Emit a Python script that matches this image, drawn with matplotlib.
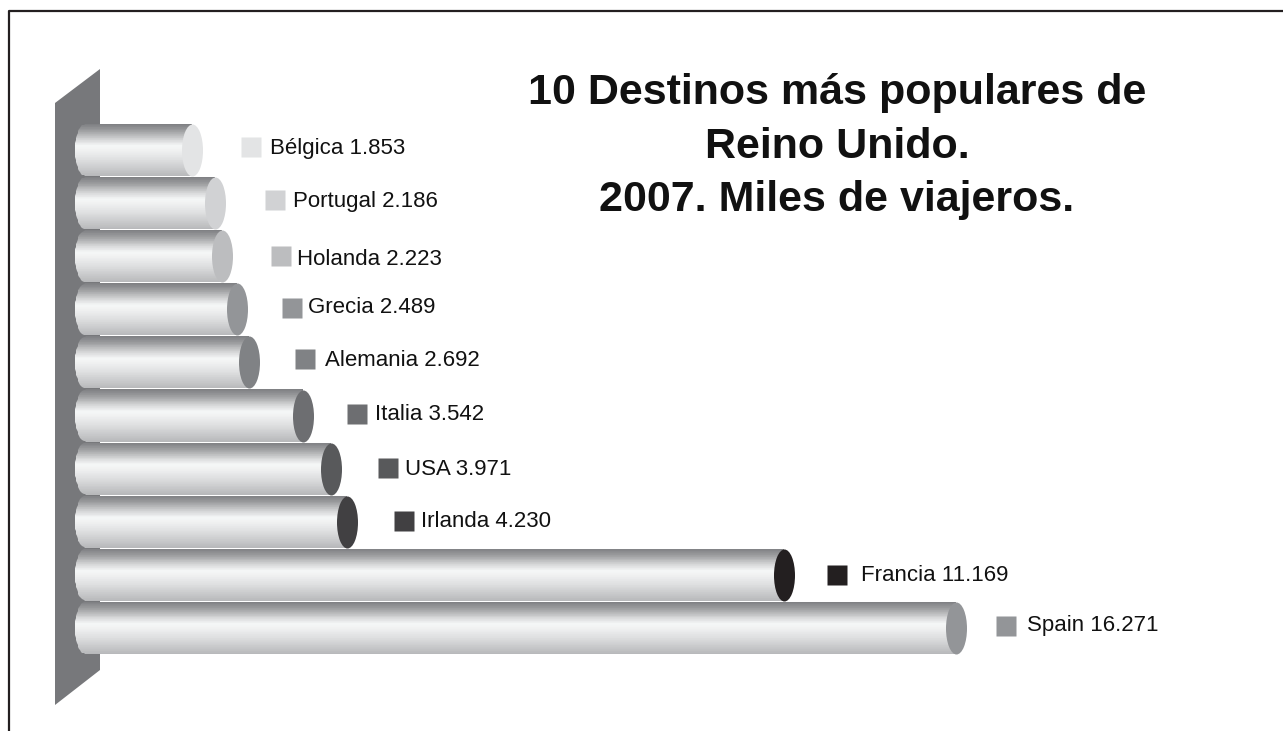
import matplotlib
matplotlib.use('Agg')
import matplotlib.pyplot as plt
import numpy as np
from matplotlib.colors import LinearSegmentedColormap
from matplotlib.patches import PathPatch, Polygon
from matplotlib.path import Path
from matplotlib.transforms import Affine2D, ScaledTranslation

plt.rcParams['font.family'] = ['Liberation Sans', 'DejaVu Sans']

countries = ['Bélgica', 'Portugal', 'Holanda', 'Grecia', 'Alemania',
             'Italia', 'USA', 'Irlanda', 'Francia', 'Spain']
travellers = [1853, 2186, 2223, 2489, 2692, 3542, 3971, 4230, 11169, 16271]
value_labels = ['1.853', '2.186', '2.223', '2.489', '2.692',
                '3.542', '3.971', '4.230', '11.169', '16.271']
cap_colors = ['#e3e4e5', '#d1d2d4', '#bcbdbf', '#939598', '#808285',
              '#6d6e71', '#58595b', '#414042', '#231f20', '#939598']

# offsets of the key squares and labels from the bar ends, in pixels
square_dx = [59, 60, 59, 55, 56, 54, 57, 57, 53, 50]
square_dy = [3, 3, 0, 1, 3, 2, 1, 1, 0, 2]
label_dx = [78, 78, 75, 71, 76, 72, 74, 74, 77, 71]
label_dy = [2, 2, -3, 2, 2, 1, -1, 0, -1, 2]

# the source chart squeezes its axis unevenly (Spain is cut short),
# so the x scale is piecewise: value -> pixel column
scale_values = [-1500, 0, 1853, 2186, 2223, 2489, 4230, 11169, 16271, 26000]
scale_pixels = [0, 85, 192, 215, 222, 236.5, 347, 784, 956, 1283]


def forward(v):
    return np.interp(v, scale_values, scale_pixels)


def inverse(p):
    return np.interp(p, scale_pixels, scale_values)


W, H = 1283, 731
dpi = 100
fig = plt.figure(figsize=(W / dpi, H / dpi), dpi=dpi)
ax = fig.add_axes([0, 0, 1, 1])
ax.set_xscale('function', functions=(forward, inverse))
ax.set_xlim(-1500, 26000)
ax.set_ylim((H - 150) / 53.1, -150 / 53.1)
ax.axis('off')


def px(x, y):
    return (x / W, 1 - y / H)


# page frame, open on the right and at the bottom
ax.plot([px(9, 0)[0], px(9, 0)[0], 1], [0, px(0, 11)[1], px(0, 11)[1]],
        color='#231f20', lw=1.6, transform=ax.transAxes, clip_on=False)

# back wall
wall = Polygon([px(55, 103), px(100, 69), px(100, 670), px(55, 705)],
               closed=True, fc='#77787b', ec='none', transform=ax.transAxes)
ax.add_patch(wall)

cyl_cmap = LinearSegmentedColormap.from_list('cyl', [
    (0.0, '#808184'), (0.12, '#9c9d9f'), (0.3, '#d6d7d8'), (0.42, '#f5f7f7'),
    (0.5, '#f1f2f2'), (0.68, '#dfe0e1'), (1.0, '#b8b9bb')])

half_h = 0.49
shade = np.linspace(0, 1, 80).reshape(-1, 1)
ellipse = Path.unit_circle().transformed(Affine2D().scale(0.404, 1))
ms = 52 * 72 / dpi

for i, (name, val) in enumerate(zip(countries, travellers)):
    # cylinder body with a rounded left end
    mesh = ax.pcolormesh([inverse(75), val],
                         np.linspace(i - half_h, i + half_h, 81),
                         shade, cmap=cyl_cmap, vmin=0, vmax=1, zorder=2)
    t = np.linspace(np.pi / 2, -np.pi / 2, 30)
    cap_x = inverse(86 - 11 * np.cos(t))
    cap_y = i + half_h * np.sin(t)
    verts = list(zip(cap_x, cap_y)) + [(val, i - half_h), (val, i + half_h), (cap_x[0], cap_y[0])]
    clip = PathPatch(Path(verts), transform=ax.transData, fc='none', ec='none')
    ax.add_patch(clip)
    mesh.set_clip_path(clip)

    # cylinder end
    ax.plot([val], [i], marker=ellipse, ms=ms, mfc=cap_colors[i], mec='none', zorder=3)

    # key square
    shift = ScaledTranslation(square_dx[i] / dpi, square_dy[i] / dpi, fig.dpi_scale_trans)
    ax.plot([val], [i], marker='s', ms=19.5 * 72 / dpi, mfc=cap_colors[i], mec='none',
            transform=ax.transData + shift, zorder=3)

    ax.annotate(name + ' ' + value_labels[i], (val, i),
                xytext=(label_dx[i], label_dy[i]), textcoords='offset pixels',
                fontsize=16, color='#111111', ha='left', va='center', zorder=4)

fig.text(837 / W, 1 - 146.5 / H,
         '10 Destinos más populares de\nReino Unido.\n2007. Miles de viajeros.',
         fontsize=31, fontweight='bold', color='#111111', ha='center', va='center',
         linespacing=1.445)

fig.savefig('out.png', dpi=dpi, facecolor='white')
